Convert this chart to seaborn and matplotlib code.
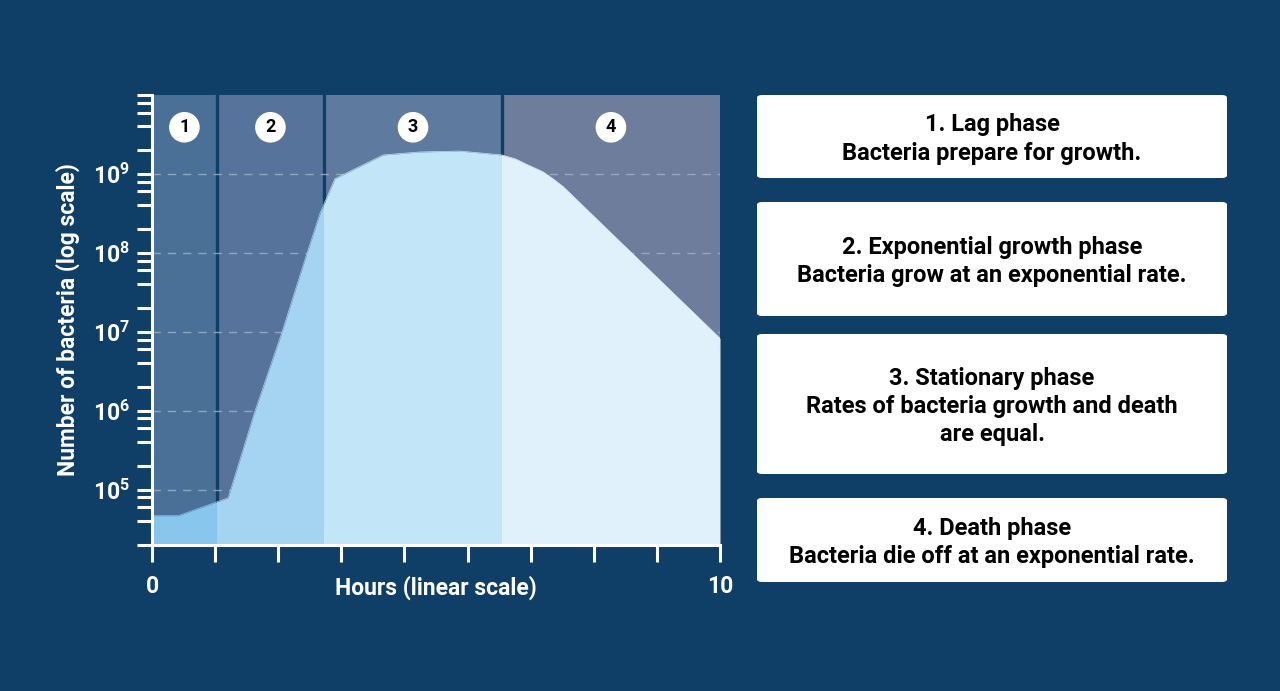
import numpy as np
import matplotlib
matplotlib.use("Agg")
import matplotlib.pyplot as plt
import seaborn as sns
from matplotlib.patches import Rectangle, FancyBboxPatch
from matplotlib.ticker import FixedLocator, FuncFormatter, NullFormatter

# Growth curve (hours, bacteria count)
hours = [0.0, 0.46, 1.34, 1.81, 2.29, 2.73, 2.96, 3.22, 4.07, 4.72, 5.42,
         6.16, 6.40, 6.62, 6.88, 7.06, 7.24, 10.0]
counts = [4.7e4, 4.7e4, 7.9e4, 9.8e5, 1.0e7, 1.0e8, 3.2e8, 8.7e8, 1.74e9,
          1.9e9, 1.95e9, 1.74e9, 1.55e9, 1.3e9, 1.07e9, 8.7e8, 6.9e8, 8.3e6]

# Phase boundaries (hours) and labels
phase_edges = [0.0, 1.14, 3.03, 6.16, 10.0]
phase_numbers = ["1", "2", "3", "4"]
phase_bg = ["#4a7098", "#55739b", "#5e7a9f", "#6e7d9b"]
phase_fill = ["#88c6ed", "#a5d4f3", "#c2e5f8", "#e0f1fc"]

phase_titles = ["1. Lag phase", "2. Exponential growth phase",
                "3. Stationary phase", "4. Death phase"]
phase_texts = ["Bacteria prepare for growth.",
               "Bacteria grow at an exponential rate.",
               "Rates of bacteria growth and death\nare equal.",
               "Bacteria die off at an exponential rate."]

BG = "#0f3f67"
FONT = "Roboto"
Y_MIN, Y_MAX = 2e4, 1e10

sns.set_theme(style="white")
plt.rcParams["font.family"] = [FONT, "DejaVu Sans"]
plt.rcParams["font.weight"] = "bold"
plt.rcParams["mathtext.fontset"] = "custom"
plt.rcParams["mathtext.rm"] = f"{FONT}:bold"
plt.rcParams["mathtext.bf"] = f"{FONT}:bold"

fig = plt.figure(figsize=(12.8, 6.91), dpi=100, facecolor=BG)
ax = fig.add_axes([152 / 1280, 1 - 545 / 691, 568 / 1280, 450 / 691])
ax.set_facecolor(BG)
ax.set_yscale("log")
ax.set_xlim(0, 10)
ax.set_ylim(Y_MIN, Y_MAX)

# phase backgrounds and separators
for i in range(4):
    ax.axvspan(phase_edges[i], phase_edges[i + 1], color=phase_bg[i], lw=0, zorder=0)
for edge in phase_edges[1:-1]:
    ax.axvline(edge, color=BG, lw=2.4, zorder=1)

# dashed decade grid
for dec in [1e5, 1e6, 1e7, 1e8, 1e9]:
    ax.axhline(dec, color="#9fb4ca", lw=1, ls=(0, (6, 5)), alpha=0.8, zorder=1)

# area under the curve, shaded per phase
for i in range(4):
    clip = Rectangle((phase_edges[i], Y_MIN), phase_edges[i + 1] - phase_edges[i],
                     Y_MAX - Y_MIN, transform=ax.transData)
    poly = ax.fill_between(hours, counts, Y_MIN, color=phase_fill[i], lw=0, zorder=2)
    poly.set_clip_path(clip)
    sns.lineplot(x=hours, y=counts, ax=ax, color=phase_fill[i], lw=0.5, zorder=2)
    ax.lines[-1].set_clip_path(clip)

# numbered circles
for i, num in enumerate(phase_numbers):
    xc = (phase_edges[i] + phase_edges[i + 1]) / 2
    ax.text(xc, 3.9e9, num, ha="center", va="center", fontsize=13,
            fontweight="bold", color="black", zorder=4,
            bbox=dict(boxstyle="circle,pad=0.35", fc="white", ec="none"))

# axes styling
for side in ["top", "right"]:
    ax.spines[side].set_visible(False)
for side in ["left", "bottom"]:
    ax.spines[side].set_color("white")
    ax.spines[side].set_linewidth(2.2)
    ax.spines[side].set_zorder(5)

ax.yaxis.set_major_locator(FixedLocator([1e5, 1e6, 1e7, 1e8, 1e9]))
minor = [s * 10.0 ** e for e in range(4, 10) for s in (2, 4, 6, 8)] + [1e10]
ax.yaxis.set_minor_locator(FixedLocator(minor))
ax.yaxis.set_major_formatter(FuncFormatter(lambda v, p: r"$10^{%d}$" % round(np.log10(v))))
ax.yaxis.set_minor_formatter(NullFormatter())
ax.tick_params(axis="y", which="both", direction="out", length=11, width=2.2,
               color="white", labelcolor="white", labelsize=16.5, pad=5, left=True)

ax.xaxis.set_major_locator(FixedLocator(np.linspace(0, 10, 10)))
ax.xaxis.set_major_formatter(FuncFormatter(lambda v, p: "0" if p == 0 else ("10" if p == 9 else "")))
ax.tick_params(axis="x", which="both", direction="out", length=12.5, width=2.2,
               color="white", labelcolor="white", labelsize=16.5, pad=9, bottom=True)

ax.set_xlabel("Hours (linear scale)", color="white", fontsize=16.5, fontweight="bold")
ax.xaxis.set_label_coords(0.5, -0.068)
ax.set_ylabel("Number of bacteria (log scale)", color="white", fontsize=16.5, fontweight="bold")
ax.yaxis.set_label_coords(-0.127, 0.5)

# description boxes on the right
boxes = [(95, 178), (202, 316), (334, 474), (498, 582)]
for (top, bottom), title, desc in zip(boxes, phase_titles, phase_texts):
    x0, x1 = 757 / 1280, 1227 / 1280
    y0, y1 = 1 - bottom / 691, 1 - top / 691
    fig.patches.append(FancyBboxPatch((x0, y0), x1 - x0, y1 - y0,
                                      boxstyle="round,pad=0,rounding_size=0.004",
                                      transform=fig.transFigure, fc="white", ec="none"))
    fig.text((x0 + x1) / 2, (y0 + y1) / 2 - 2.5 / 691, title + "\n" + desc,
             ha="center", va="center", fontsize=17, fontweight="bold", color="black",
             linespacing=1.3, multialignment="center")

fig.savefig("out.png", dpi=100, facecolor=BG)
